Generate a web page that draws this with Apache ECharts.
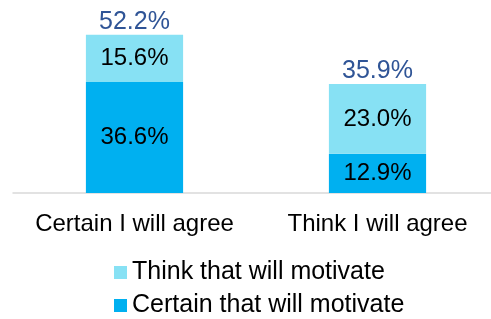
<!DOCTYPE html>
<html>
<head>
<meta charset="utf-8">
<script src="https://cdn.jsdelivr.net/npm/echarts@6/dist/echarts.min.js"></script>
<style>
  html, body { margin: 0; padding: 0; background: #fff; }
  #main { width: 491px; height: 319px; }
</style>
</head>
<body>
<div id="main"></div>
<script>
// data
var categories = ['Certain I will agree', 'Think I will agree'];
var certainMotivate = [36.6, 12.9];
var thinkMotivate = [15.6, 23.0];
var totals = [52.2, 35.9];

var myChart = echarts.init(document.getElementById('main'));
var font = 'Liberation Sans, Arial, sans-serif';
var legendText = { fontSize: 25, lineHeight: 25, color: '#000', fontFamily: font };

var option = {
    animation: false,
    grid: { left: 13, width: 486, top: 11, height: 182, outerBoundsMode: 'none', containLabel: false },
    legend: [
        {
            left: 114, top: 260, padding: 0, itemWidth: 13, itemHeight: 13, icon: 'rect',
            data: ['Think that will motivate'], textStyle: legendText
        },
        {
            left: 114, top: 293, padding: 0, itemWidth: 13, itemHeight: 13, icon: 'rect',
            data: ['Certain that will motivate'], textStyle: legendText
        }
    ],
    xAxis: {
        type: 'category',
        data: categories,
        axisTick: { show: false },
        axisLine: { lineStyle: { color: '#d9d9d9', width: 1.5 } },
        axisLabel: { interval: 0, fontSize: 24, color: '#000', fontFamily: font, margin: 19 }
    },
    yAxis: {
        type: 'value',
        min: 0,
        max: 60,
        show: false
    },
    series: [
        {
            name: 'Certain that will motivate',
            type: 'bar',
            stack: 'a',
            barWidth: '40%',
            data: certainMotivate,
            itemStyle: { color: '#00B0F0' },
            label: {
                show: true, position: 'inside', fontSize: 24, color: '#000', fontFamily: font,
                formatter: function (p) { return p.value.toFixed(1) + '%'; }
            }
        },
        {
            name: 'Think that will motivate',
            type: 'bar',
            stack: 'a',
            barWidth: '40%',
            data: thinkMotivate,
            itemStyle: { color: '#87E1F4' },
            label: {
                show: true, position: 'inside', fontSize: 24, color: '#000', fontFamily: font,
                formatter: function (p) { return p.value.toFixed(1) + '%'; }
            }
        },
        {
            name: 'Total',
            type: 'bar',
            barWidth: '40%',
            barGap: '-100%',
            z: 0,
            data: totals,
            itemStyle: { color: 'rgba(0,0,0,0)' },
            label: {
                show: true, position: 'top', distance: 0, fontSize: 25, color: '#2F5496', fontFamily: font,
                formatter: function (p) { return p.value.toFixed(1) + '%'; }
            }
        }
    ]
};
myChart.setOption(option);
</script>
</body>
</html>
